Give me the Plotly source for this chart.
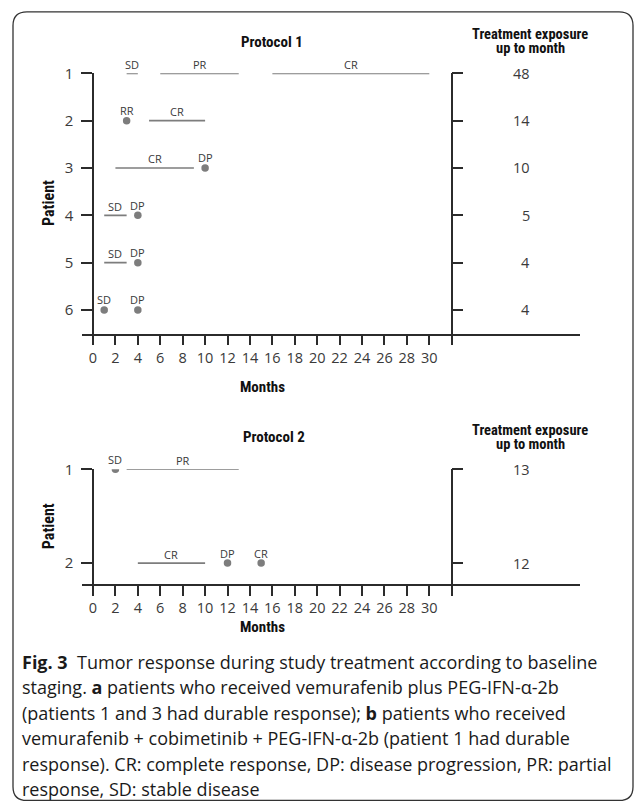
import plotly.graph_objects as go

# ---------------- data ----------------
# Protocol 1
p1_patients = [1, 2, 3, 4, 5, 6]
p1_exposure = [48, 14, 10, 5, 4, 4]
# segments: (patient, start month, end month, label)
p1_seg_patient = [1, 1, 1, 2, 3, 4, 5]
p1_seg_start = [3, 6, 16, 5, 2, 1, 1]
p1_seg_end = [4, 13, 30, 10, 9, 3, 3]
p1_seg_label = ["SD", "PR", "CR", "CR", "CR", "SD", "SD"]
# points: (patient, month, label)
p1_pt_patient = [2, 3, 4, 5, 6, 6]
p1_pt_month = [3, 10, 4, 4, 1, 4]
p1_pt_label = ["RR", "DP", "DP", "DP", "SD", "DP"]

# Protocol 2
p2_patients = [1, 2]
p2_exposure = [13, 12]
p2_seg_patient = [1, 2]
p2_seg_start = [3, 4]
p2_seg_end = [13, 10]
p2_seg_label = ["PR", "CR"]
p2_pt_patient = [1, 2, 2]
p2_pt_month = [2, 12, 15]
p2_pt_label = ["SD", "DP", "CR"]

month_ticks = list(range(0, 33, 2))
month_ticktext = [str(m) if m <= 30 else "" for m in month_ticks]
exposure_axis_month = 32

caption_lines = [
    "<b>Fig. 3</b>  Tumor response during study treatment according to baseline",
    "staging. <b>a</b> patients who received vemurafenib plus PEG-IFN-α-2b",
    "(patients 1 and 3 had durable response); <b>b</b> patients who received",
    "vemurafenib + cobimetinib + PEG-IFN-α-2b (patient 1 had durable",
    "response). CR: complete response, DP: disease progression, PR: partial",
    "response, SD: stable disease",
]

# ---------------- layout helpers ----------------
W, H = 635, 811
def fx(px):
    return px / W
def vy(py):
    # screen-target pixel -> page pixel (compensates observed vertical offset)
    return max((py - 9.5) / 0.989, 0.8)
def fy(py):
    return 1 - vy(py) / H

X0_PX, MPX = 93.0, 11.21          # pixel of month 0, pixels per month
XL_PX, XR_PX = 82.0, 580.0        # extent of x axis line
xrange_ = [(XL_PX - X0_PX) / MPX, (XR_PX - X0_PX) / MPX]

AX = "#2b2b2b"
MARK = "#7d7d7d"
LBL = "#3a3a3a"
BODY = "Open Sans, Liberation Sans, sans-serif"
COND = "Liberation Sans Narrow, Roboto Condensed, Liberation Sans, sans-serif"

fig = go.Figure()

def add_panel(xa, ya, seg_p, seg_s, seg_e, seg_l, pt_p, pt_m, pt_l):
    xs, ys = [], []
    for p, s, e in zip(seg_p, seg_s, seg_e):
        xs += [s, e, None]
        ys += [p, p, None]
    fig.add_trace(go.Scatter(x=xs, y=ys, mode="lines", xaxis=xa, yaxis=ya,
                             line=dict(color=MARK, width=1.6),
                             hoverinfo="skip", showlegend=False))
    fig.add_trace(go.Scatter(x=pt_m, y=pt_p, mode="markers", xaxis=xa, yaxis=ya,
                             marker=dict(color=MARK, size=7.5),
                             hoverinfo="skip", showlegend=False))
    for p, s, e, l in zip(seg_p, seg_s, seg_e, seg_l):
        fig.add_annotation(x=(s + e) / 2, y=p, xref=xa, yref=ya, text=l,
                           showarrow=False, yanchor="middle", yshift=9,
                           font=dict(family=BODY, size=11, color=LBL))
    for p, m, l in zip(pt_p, pt_m, pt_l):
        fig.add_annotation(x=m, y=p, xref=xa, yref=ya, text=l,
                           showarrow=False, yanchor="middle", yshift=10,
                           font=dict(family=BODY, size=11, color=LBL))

add_panel("x", "y", p1_seg_patient, p1_seg_start, p1_seg_end, p1_seg_label,
          p1_pt_patient, p1_pt_month, p1_pt_label)
add_panel("x2", "y2", p2_seg_patient, p2_seg_start, p2_seg_end, p2_seg_label,
          p2_pt_patient, p2_pt_month, p2_pt_label)

# invisible traces to activate right-hand axes
fig.add_trace(go.Scatter(x=[None], y=[None], xaxis="x", yaxis="y3", showlegend=False))
fig.add_trace(go.Scatter(x=[None], y=[None], xaxis="x2", yaxis="y4", showlegend=False))

xcommon = dict(range=xrange_, showline=True, linecolor=AX, linewidth=1.5,
               ticks="outside", ticklen=10, tickwidth=1.5, tickcolor=AX,
               tickvals=month_ticks, ticktext=month_ticktext,
               showgrid=False, zeroline=False, fixedrange=True,
               tickfont=dict(family=BODY, size=14.5, color=LBL))
ycommon = dict(showline=True, linecolor=AX, linewidth=1.5,
               ticks="outside", ticklen=11, tickwidth=1.5, tickcolor=AX,
               showgrid=False, zeroline=False, fixedrange=True,
               tickfont=dict(family=BODY, size=15, color=LBL))

top_dom = [fy(333), fy(72)]
bot_dom = [fy(584), fy(469)]
top_range = [6.5, 1]
bot_range = [2.223, 1]

fig.update_layout(
    width=W, height=H, autosize=False,
    margin=dict(l=0, r=0, t=0, b=0),
    paper_bgcolor="white", plot_bgcolor="white",
    xaxis=dict(domain=[fx(XL_PX), fx(XR_PX)], anchor="y", **xcommon),
    xaxis2=dict(domain=[fx(XL_PX), fx(XR_PX)], anchor="y2", **xcommon),
    yaxis=dict(domain=top_dom, range=top_range, anchor="free", position=fx(X0_PX),
               tickvals=p1_patients, ticklabelstandoff=5, **ycommon),
    yaxis2=dict(domain=bot_dom, range=bot_range, anchor="free", position=fx(X0_PX),
                tickvals=p2_patients, ticklabelstandoff=5, **ycommon),
    yaxis3=dict(overlaying="y", range=top_range, anchor="free",
                position=fx(X0_PX + exposure_axis_month * MPX), side="right",
                tickvals=p1_patients, showticklabels=False, **ycommon),
    yaxis4=dict(overlaying="y2", range=bot_range, anchor="free",
                position=fx(X0_PX + exposure_axis_month * MPX), side="right",
                tickvals=p2_patients, showticklabels=False, **ycommon),
)

# exposure labels
for yref, pats, expo in (("y", p1_patients, p1_exposure), ("y2", p2_patients, p2_exposure)):
    for p, e in zip(pats, expo):
        fig.add_annotation(x=fx(532), y=p, xref="paper", yref=yref, text=str(e),
                           showarrow=False, font=dict(family=BODY, size=14.5, color=LBL))

def txt(x, y, t, size, family=COND, bold=True, color="#111111", angle=0, xanchor="center"):
    fig.add_annotation(x=fx(x), y=fy(y), xref="paper", yref="paper",
                       text=f"<b>{t}</b>" if bold else t, showarrow=False,
                       textangle=angle, xanchor=xanchor, yanchor="middle",
                       font=dict(family=family, size=size, color=color))

# titles and headers
txt(272, 41, "Protocol 1", 15)
txt(274, 437, "Protocol 2", 15)
txt(530, 33, "Treatment exposure", 14.5)
txt(530, 47, "up to month", 14.5)
txt(530, 430, "Treatment exposure", 14.5)
txt(530, 444, "up to month", 14.5)
txt(262, 386, "Months", 15)
txt(262, 627, "Months", 15)
txt(48, 202, "Patient", 16, angle=-90)
txt(48, 526, "Patient", 16, angle=-90)

# caption
cap_y = [662, 687.6, 713.2, 738.8, 764.4, 790]
for yy, line in zip(cap_y, caption_lines):
    txt(20, yy, line, 18, family=BODY, bold=False, color="#1a1a1a", xanchor="left")

# rounded border
x0, x1, r = 13, 633, 14
y0, y1 = vy(8), vy(801)
def Y(py):
    return 1 - py / H
path = (f"M {fx(x0+r)},{Y(y0)} L {fx(x1-r)},{Y(y0)} "
        f"Q {fx(x1)},{Y(y0)} {fx(x1)},{Y(y0+r)} L {fx(x1)},{Y(y1-r)} "
        f"Q {fx(x1)},{Y(y1)} {fx(x1-r)},{Y(y1)} L {fx(x0+r)},{Y(y1)} "
        f"Q {fx(x0)},{Y(y1)} {fx(x0)},{Y(y1-r)} L {fx(x0)},{Y(y0+r)} "
        f"Q {fx(x0)},{Y(y0)} {fx(x0+r)},{Y(y0)} Z")
fig.add_shape(type="path", path=path, xref="paper", yref="paper",
              line=dict(color="#333333", width=1.3))

pin = ("document.body.style.margin='0';"
       "var d=document.getElementById('{plot_id}');"
       "d.style.position='fixed';d.style.top='0px';d.style.left='0px';")
fig.write_html("out.html", post_script=pin, config={"displayModeBar": False})
